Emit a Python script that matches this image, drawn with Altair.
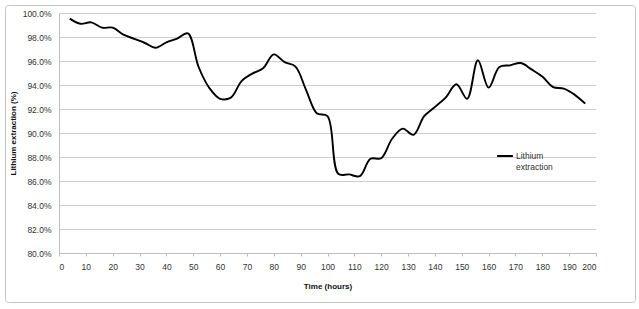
import altair as alt
import pandas as pd

hours = [4, 8, 12, 16, 20, 24, 28, 32, 36, 40, 44, 48, 52, 56, 60, 64, 68, 72, 76, 80,
         84, 88, 92, 96, 100, 104, 108, 112, 116, 120, 124, 128, 132, 136, 140, 144,
         148, 152, 156, 160, 164, 168, 172, 176, 180, 184, 188, 192, 196]
extraction = [99.53, 99.1, 99.22, 98.78, 98.78, 98.2, 97.85, 97.5, 97.1, 97.55, 97.87,
              98.3, 95.5, 93.75, 92.85, 92.95, 94.33, 94.95, 95.4, 96.55, 95.9, 95.55,
              93.6, 91.65, 91.4, 86.6, 86.55, 86.4, 87.85, 87.9, 89.5, 90.36, 89.85,
              91.4, 92.17, 92.95, 94.06, 92.85, 96.06, 93.78, 95.5, 95.64, 95.83, 95.3,
              94.7, 93.83, 93.7, 93.2, 92.45]
series_name = "Lithium extraction"

df = pd.DataFrame({"hours": hours, "value": [v / 100 for v in extraction],
                   "series": series_name})

FONT = "Liberation Sans"

border = alt.Chart(pd.DataFrame({"a": [0]})).mark_rect(
    fill=None, stroke="#c4c4c4", strokeWidth=1, cornerRadius=3, clip=False
).encode(x=alt.value(-53.5), x2=alt.value(576.5), y=alt.value(-7.5), y2=alt.value(289.5))

line = alt.Chart(df).mark_line(
    interpolate="catmull-rom", strokeWidth=1.9
).encode(
    x=alt.X("hours:Q", scale=alt.Scale(domain=[0, 200], nice=False),
            axis=alt.Axis(title="Time (hours)", values=list(range(0, 201, 10)),
                          grid=False, tickSize=3, labelPadding=6, titlePadding=12,
                          domainColor="#bdbdbd", tickColor="#bdbdbd")),
    y=alt.Y("value:Q", scale=alt.Scale(domain=[0.8, 1.0], nice=False),
            axis=alt.Axis(title="Lithium extraction (%)", format=".1%",
                          values=[0.80 + i * 0.02 for i in range(11)],
                          ticks=False, labelPadding=8, titlePadding=5,
                          domainColor="#bdbdbd", gridColor="#cfcfcf")),
    color=alt.Color("series:N", scale=alt.Scale(range=["#000000"]),
                    legend=alt.Legend(title=None, orient="none", legendX=437, legendY=134,
                                      symbolType="stroke", symbolStrokeWidth=2,
                                      symbolSize=250, labelOffset=2,
                                      labelExpr="['Lithium', 'extraction']",
                                      labelFontSize=8.5, labelFont=FONT, labelColor="#333")),
)

chart = alt.layer(border, line).properties(
    width=537, height=240,
    autosize=alt.AutoSizeParams(type="none"),
    padding={"left": 59, "top": 13, "right": 43, "bottom": 56},
).configure_view(stroke=None).configure_axis(
    labelFont=FONT, titleFont=FONT, labelFontSize=8.5, titleFontSize=8,
    labelColor="#333", titleColor="#111", titleFontWeight="bold"
)

chart.save("out.html", embed_options={"renderer": "svg", "actions": False})
